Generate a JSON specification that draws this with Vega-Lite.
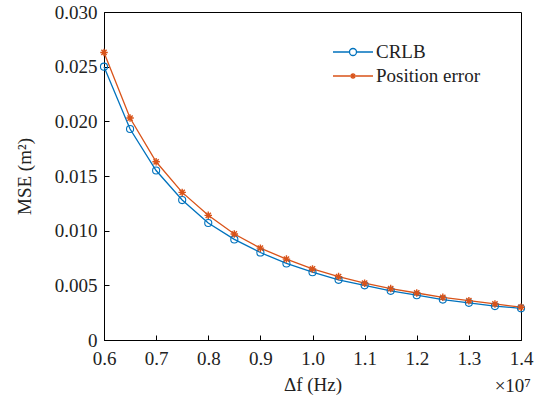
{
  "$schema": "https://vega.github.io/schema/vega-lite/v6.json",
  "width": 417,
  "height": 328,
  "autosize": "none",
  "padding": {"left": 104, "top": 12, "right": 20, "bottom": 60},
  "background": "white",
  "config": {
    "view": {"stroke": "black", "strokeWidth": 1},
    "font": "Times New Roman, Liberation Serif, serif",
    "axis": {
      "labelFont": "Times New Roman, Liberation Serif, serif",
      "titleFont": "Times New Roman, Liberation Serif, serif",
      "labelFontSize": 19,
      "titleFontSize": 19,
      "titleFontWeight": "normal",
      "labelColor": "#222",
      "titleColor": "#222",
      "domainColor": "black",
      "tickColor": "black",
      "grid": false,
      "tickSize": -5,
      "labelFlush": false
    },
    "legend": {
      "labelFont": "Times New Roman, Liberation Serif, serif",
      "labelFontSize": 19,
      "labelColor": "#222"
    }
  },
  "datasets": {
    "mse": [
      {"df": 0.60, "series": "CRLB", "mse": 0.0250},
      {"df": 0.65, "series": "CRLB", "mse": 0.0193},
      {"df": 0.70, "series": "CRLB", "mse": 0.0155},
      {"df": 0.75, "series": "CRLB", "mse": 0.0128},
      {"df": 0.80, "series": "CRLB", "mse": 0.0107},
      {"df": 0.85, "series": "CRLB", "mse": 0.0092},
      {"df": 0.90, "series": "CRLB", "mse": 0.0080},
      {"df": 0.95, "series": "CRLB", "mse": 0.0070},
      {"df": 1.00, "series": "CRLB", "mse": 0.0062},
      {"df": 1.05, "series": "CRLB", "mse": 0.0055},
      {"df": 1.10, "series": "CRLB", "mse": 0.0050},
      {"df": 1.15, "series": "CRLB", "mse": 0.0045},
      {"df": 1.20, "series": "CRLB", "mse": 0.0041},
      {"df": 1.25, "series": "CRLB", "mse": 0.0037},
      {"df": 1.30, "series": "CRLB", "mse": 0.0034},
      {"df": 1.35, "series": "CRLB", "mse": 0.0031},
      {"df": 1.40, "series": "CRLB", "mse": 0.0029},
      {"df": 0.60, "series": "Position error", "mse": 0.0263},
      {"df": 0.65, "series": "Position error", "mse": 0.0203},
      {"df": 0.70, "series": "Position error", "mse": 0.0163},
      {"df": 0.75, "series": "Position error", "mse": 0.0135},
      {"df": 0.80, "series": "Position error", "mse": 0.0114},
      {"df": 0.85, "series": "Position error", "mse": 0.0097},
      {"df": 0.90, "series": "Position error", "mse": 0.0084},
      {"df": 0.95, "series": "Position error", "mse": 0.0074},
      {"df": 1.00, "series": "Position error", "mse": 0.0065},
      {"df": 1.05, "series": "Position error", "mse": 0.0058},
      {"df": 1.10, "series": "Position error", "mse": 0.0052},
      {"df": 1.15, "series": "Position error", "mse": 0.0047},
      {"df": 1.20, "series": "Position error", "mse": 0.0043},
      {"df": 1.25, "series": "Position error", "mse": 0.0039},
      {"df": 1.30, "series": "Position error", "mse": 0.0036},
      {"df": 1.35, "series": "Position error", "mse": 0.0033},
      {"df": 1.40, "series": "Position error", "mse": 0.0030}
    ],
    "note": [{"t": "×10⁷"}]
  },
  "layer": [
    {
      "data": {"name": "mse"},
      "mark": {"type": "line", "strokeWidth": 1.3},
      "encoding": {
        "x": {
          "field": "df", "type": "quantitative",
          "scale": {"domain": [0.6, 1.4], "nice": false, "zero": false},
          "axis": {
            "title": "Δf (Hz)",
            "values": [0.6, 0.7, 0.8, 0.9, 1.0, 1.1, 1.2, 1.3, 1.4],
            "format": ".1f",
            "labelPadding": 14,
            "titlePadding": 7
          }
        },
        "y": {
          "field": "mse", "type": "quantitative",
          "scale": {"domain": [0, 0.03], "nice": false},
          "axis": {
            "title": "MSE (m²)",
            "values": [0, 0.005, 0.01, 0.015, 0.02, 0.025, 0.03],
            "labelExpr": "datum.value == 0 ? '0' : format(datum.value, '.3f')",
            "labelPadding": 12,
            "titlePadding": 20
          }
        },
        "color": {
          "field": "series", "type": "nominal",
          "scale": {"domain": ["CRLB", "Position error"], "range": ["#0072BD", "#D95319"]},
          "legend": {
            "title": null,
            "orient": "none",
            "legendX": 238,
            "legendY": 29,
            "symbolSize": 400,
            "labelOffset": 12,
            "rowPadding": 3,
            "encode": {
              "symbols": {
                "update": {
                  "shape": {"signal": "datum.value == 'CRLB' ? 'M-2,0H-0.35M0.35,0H2M0.35,0A0.35,0.35 0 1 1 -0.35,0A0.35,0.35 0 1 1 0.35,0' : 'M-2,0H2M0,-0.3V0.3M-0.21,-0.21L0.21,0.21M-0.21,0.21L0.21,-0.21'"},
                  "fill": {"value": "transparent"},
                  "strokeWidth": {"value": 1.3}
                }
              }
            }
          }
        }
      }
    },
    {
      "data": {"name": "mse"},
      "transform": [{"filter": "datum.series == 'CRLB'"}],
      "mark": {"type": "point", "shape": "circle", "filled": false, "strokeWidth": 1.1, "size": 50, "opacity": 1, "color": "#0072BD"},
      "encoding": {
        "x": {"field": "df", "type": "quantitative"},
        "y": {"field": "mse", "type": "quantitative"}
      }
    },
    {
      "data": {"name": "mse"},
      "transform": [{"filter": "datum.series == 'Position error'"}],
      "mark": {"type": "point", "shape": "M0,-1V1M-1,0H1M-0.7,-0.7L0.7,0.7M-0.7,0.7L0.7,-0.7", "filled": false, "strokeWidth": 1.4, "size": 56, "opacity": 1, "color": "#D95319"},
      "encoding": {
        "x": {"field": "df", "type": "quantitative"},
        "y": {"field": "mse", "type": "quantitative"}
      }
    },
    {
      "data": {"name": "note"},
      "mark": {"type": "text", "align": "right", "baseline": "middle", "dx": 10, "dy": 46, "fontSize": 19, "font": "Times New Roman, Liberation Serif, serif", "color": "#222"},
      "encoding": {
        "x": {"datum": 1.4, "type": "quantitative"},
        "y": {"datum": 0, "type": "quantitative"},
        "text": {"field": "t"}
      }
    }
  ]
}
